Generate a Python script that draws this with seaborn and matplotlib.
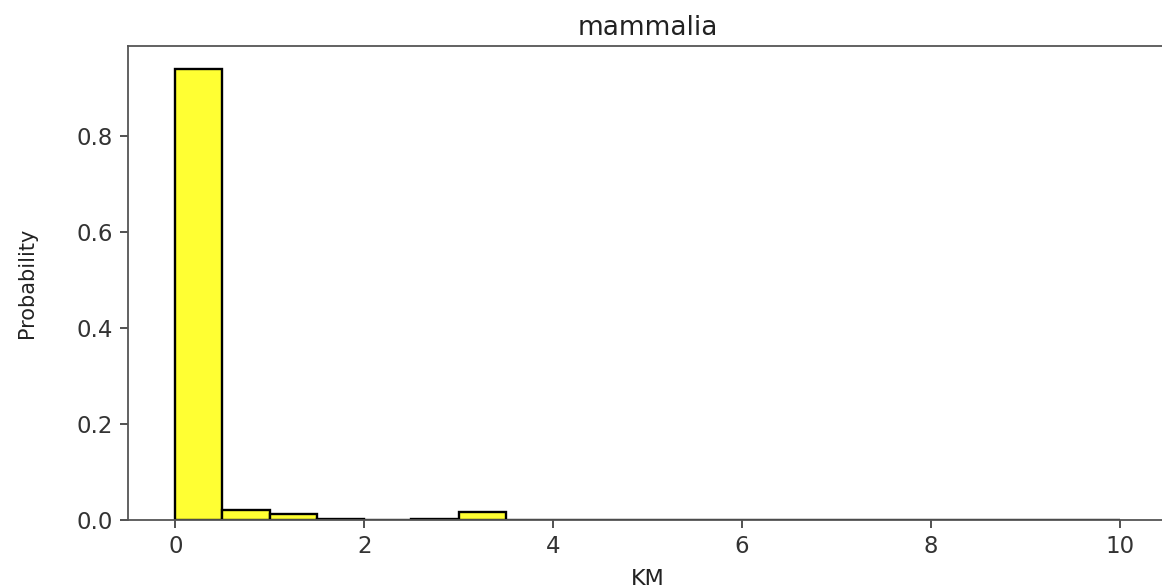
import numpy as np
import matplotlib
matplotlib.use("Agg")
import matplotlib.pyplot as plt
import seaborn as sns

bin_edges = [0.0, 0.5, 1.0, 1.5, 2.0, 2.5, 3.0, 3.5, 4.0, 4.5, 5.0,
             5.5, 6.0, 6.5, 7.0, 7.5, 8.0, 8.5, 9.0, 9.5, 10.0]
probability = [0.940, 0.021, 0.013, 0.003, 0.000, 0.003, 0.017, 0.0, 0.0, 0.0,
               0.0, 0.0, 0.0, 0.0, 0.0, 0.0, 0.0, 0.0, 0.0, 0.0]
x_ticks = [0, 2, 4, 6, 8, 10]
y_ticks = [0.0, 0.2, 0.4, 0.6, 0.8]

bin_centers = [(a + b) / 2 for a, b in zip(bin_edges[:-1], bin_edges[1:])]

sns.set_style("ticks")
plt.rcParams['font.family'] = ['DejaVu Sans']

fig = plt.figure(figsize=(11.62, 5.88), dpi=100)
ax = fig.add_axes([0.1102, 0.1156, 0.894, 0.806])

sns.histplot(x=bin_centers, weights=probability, bins=bin_edges, stat="count",
             color="#ffff33", alpha=1.0, edgecolor="black", linewidth=1.7, ax=ax)

ax.set_xlim(-0.5, 10.5)
ax.set_ylim(0, 0.987)
ax.set_xticks(x_ticks)
ax.set_yticks(y_ticks)
ax.set_xticklabels([str(t) for t in x_ticks])
ax.set_yticklabels([f"{t:.1f}" for t in y_ticks])

ax.set_title("mammalia", fontsize=19, color="#222222", pad=8)
ax.set_xlabel("KM", fontsize=16, color="#222222", labelpad=8)
ax.set_ylabel("Probability", fontsize=15, color="#222222", labelpad=28)
ax.tick_params(labelsize=16.5, colors="#333333", length=6, width=1.2, pad=5)

for side in ["left", "bottom", "top", "right"]:
    ax.spines[side].set_color("#555555")
    ax.spines[side].set_linewidth(1.3)

fig.savefig("out.png", dpi=100)
